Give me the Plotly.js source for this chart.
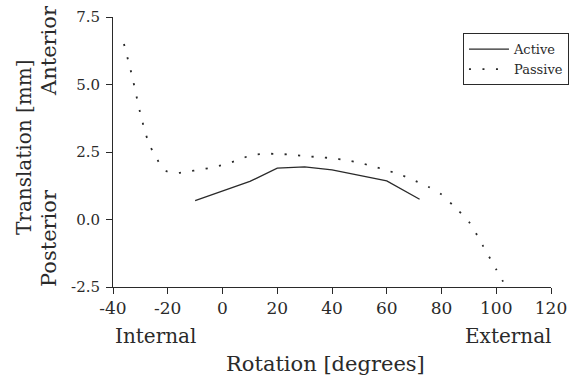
<!DOCTYPE html>
<html>
<head>
<meta charset="utf-8">
<script src="https://cdn.plot.ly/plotly-3.0.1.min.js"></script>
<style>html,body{margin:0;padding:0;background:#fff;}#chart{width:572px;height:383px;}</style>
</head>
<body>
<div id="chart"></div>
<script>
// Active series
const activeX = [-10, 0, 10, 20, 30, 40, 50, 60, 72];
const activeY = [0.70, 1.05, 1.41, 1.90, 1.95, 1.84, 1.64, 1.43, 0.75];
// Passive series
const passiveX = [-36, -33, -30, -27, -24, -21, -18, -13, -8, -4, 0, 5, 10, 15, 20, 25, 30, 35, 40, 45, 50, 55, 60, 65, 70, 75, 80, 85, 90, 95, 100, 102.5];
const passiveY = [6.5, 5.3, 3.92, 2.85, 2.25, 1.82, 1.72, 1.77, 1.85, 1.92, 2.02, 2.18, 2.36, 2.43, 2.43, 2.40, 2.35, 2.31, 2.27, 2.20, 2.10, 1.97, 1.82, 1.66, 1.45, 1.22, 0.93, 0.44, -0.08, -0.95, -1.85, -2.3];
// Tick labels
const xTickVals = [-40, -20, 0, 20, 40, 60, 80, 100, 120];
const xTickText = ["-40", "-20", "0", "20", "40", "60", "80", "100", "120"];
const yTickVals = [-2.5, 0, 2.5, 5, 7.5];
const yTickText = ["-2.5", "0.0", "2.5", "5.0", "7.5"];
const seriesNames = ["Active", "Passive"];

const FONT = "DejaVu Serif, serif";
const INK = "#2a2a2a";

const traces = [
  {x: activeX, y: activeY, name: seriesNames[0], mode: "lines",
   line: {color: INK, width: 1.3}},
  {x: passiveX, y: passiveY, name: seriesNames[1], mode: "lines",
   line: {color: INK, width: 1.8, dash: "2px,11.5px", shape: "spline", smoothing: 0.8}}
];

const layout = {
  width: 572, height: 383,
  margin: {l: 113, r: 21, t: 17, b: 96, autoexpand: false},
  paper_bgcolor: "#fff", plot_bgcolor: "#fff",
  font: {family: FONT, color: INK},
  showlegend: true,
  legend: {x: 0.799, y: 0.94, xanchor: "left", yanchor: "top",
    bordercolor: INK, borderwidth: 1, bgcolor: "#fff", itemwidth: 40,
    font: {family: FONT, size: 13, color: INK}, tracegroupgap: 0},
  xaxis: {range: [-40, 120], tickvals: xTickVals, ticktext: xTickText, automargin: false,
    showgrid: false, zeroline: false, showline: true, linecolor: INK, linewidth: 1,
    ticks: "outside", ticklen: 6, tickcolor: INK,
    tickfont: {family: FONT, size: 17, color: INK}},
  yaxis: {range: [-2.5, 7.5], tickvals: yTickVals, ticktext: yTickText, automargin: false,
    showgrid: false, zeroline: false, showline: true, linecolor: INK, linewidth: 1,
    ticks: "outside", ticklen: 6, tickcolor: INK, ticklabelstandoff: 3,
    tickfont: {family: FONT, size: 15, color: INK}},
  annotations: [
    {text: "Internal", xref: "paper", yref: "paper", x: (155-113)/438, y: (287-336)/270,
     xanchor: "center", yanchor: "middle", showarrow: false, font: {family: FONT, size: 20, color: INK}},
    {text: "External", xref: "paper", yref: "paper", x: (508-113)/438, y: (287-336)/270,
     xanchor: "center", yanchor: "middle", showarrow: false, font: {family: FONT, size: 20, color: INK}},
    {text: "Rotation [degrees]", xref: "paper", yref: "paper", x: (325-113)/438, y: (287-364)/270,
     xanchor: "center", yanchor: "middle", showarrow: false, font: {family: FONT, size: 21, color: INK}},
    {text: "Translation [mm]", xref: "paper", yref: "paper", x: (24-113)/438, y: (287-147)/270,
     xanchor: "center", yanchor: "middle", textangle: -90, showarrow: false, font: {family: FONT, size: 20, color: INK}},
    {text: "Anterior", xref: "paper", yref: "paper", x: (49-113)/438, y: (287-51)/270,
     xanchor: "center", yanchor: "middle", textangle: -90, showarrow: false, font: {family: FONT, size: 21, color: INK}},
    {text: "Posterior", xref: "paper", yref: "paper", x: (49-113)/438, y: (287-238)/270,
     xanchor: "center", yanchor: "middle", textangle: -90, showarrow: false, font: {family: FONT, size: 21, color: INK}}
  ]
};

Plotly.newPlot("chart", traces, layout, {staticPlot: true, displayModeBar: false});
</script>
</body>
</html>
